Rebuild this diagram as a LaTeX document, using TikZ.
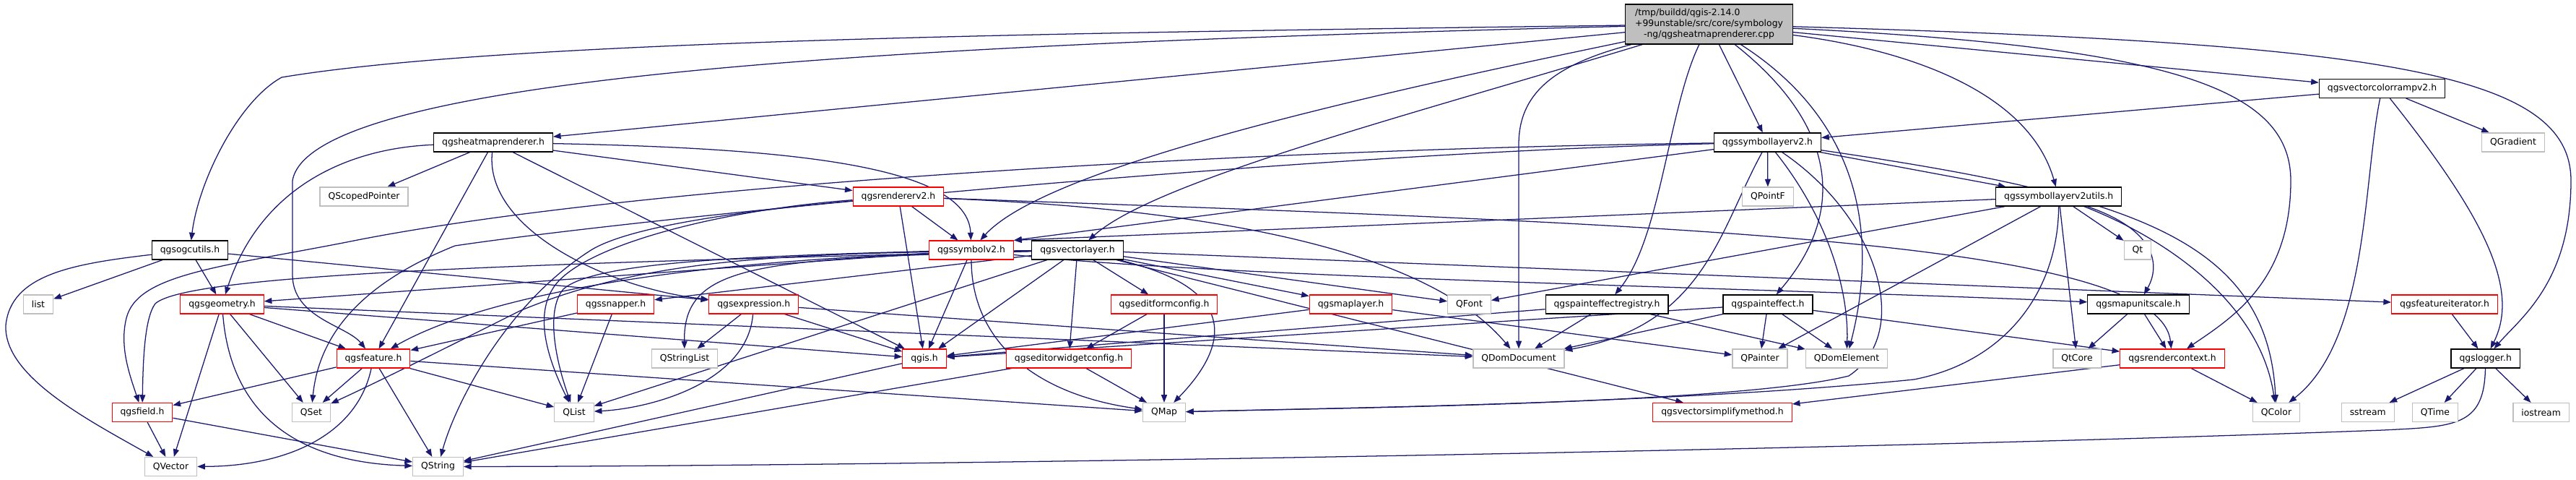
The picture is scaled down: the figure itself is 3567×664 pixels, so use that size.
\documentclass[tikz,border=0pt]{standalone}
\usepackage{fontspec}
\setmainfont{DejaVu Sans}
\usetikzlibrary{arrows.meta}
\definecolor{mblue}{HTML}{191970}
\definecolor{lgray}{HTML}{BFBFBF}
\definecolor{rootfill}{HTML}{BFBFBF}
\pgfdeclarelayer{bg}
\pgfsetlayers{bg,main}
\newcommand{\nodefont}{\fontsize{9.3pt}{11.25pt}\selectfont}
\begin{document}
\begin{tikzpicture}[x=0.75pt,y=-0.75pt,
  nd/.style={draw, fill=white, line width=0.9pt, minimum height=19.5pt, inner xsep=8.6pt, inner ysep=2pt, font=\nodefont, text=black},
  blk/.style={nd, draw=black},
  rdn/.style={nd, draw=red},
  gry/.style={nd, draw=lgray},
  e/.style={draw=mblue, line width=0.95pt, -{Triangle[length=8pt,width=6pt]}}]
\useasboundingbox (0,0) rectangle (3567,664);
\begin{pgfonlayer}{bg}
\fill[white] (0,0) rectangle (3567,664);
\end{pgfonlayer}
% nodes
\node[blk, fill=rootfill, minimum width=174pt, minimum height=41.25pt, inner xsep=0pt] (root) at (2366.5,33.5) {\begin{tabular}{@{}l@{}}/tmp/buildd/qgis-2.14.0\\+99unstable/src/core/symbology\\\multicolumn{1}{@{}c@{}}{-ng/qgsheatmaprenderer.cpp}\end{tabular}};
\node[blk] (vcr) at (3298.5,122.5) {qgsvectorcolorrampv2.h};
\node[blk] (heat) at (683,197) {qgsheatmaprenderer.h};
\node[blk] (slv2) at (2447.5,197) {qgssymbollayerv2.h};
\node[gry] (QGradient) at (3480,197) {QGradient};
\node[gry] (QScopedPointer) at (504,272) {QScopedPointer};
\node[rdn] (r2) at (1244,272) {qgsrendererv2.h};
\node[gry] (QPointF) at (2448,272) {QPointF};
\node[blk] (slu) at (2850.7,272) {qgssymbollayerv2utils.h};
\node[blk] (ogc) at (263,346) {qgsogcutils.h};
\node[rdn] (symbolv2) at (1345,346) {qgssymbolv2.h};
\node[blk] (vl) at (1492,346) {qgsvectorlayer.h};
\node[gry] (Qt) at (2960,346) {Qt};
\node[gry] (list) at (53,421) {list};
\node[rdn] (geometry) at (307.5,421) {qgsgeometry.h};
\node[rdn] (snapper) at (852.5,421) {qgssnapper.h};
\node[rdn] (expression) at (1043.7,421) {qgsexpression.h};
\node[rdn] (efc) at (1612,421) {qgseditformconfig.h};
\node[rdn] (maplayer) at (1870.5,421) {qgsmaplayer.h};
\node[gry] (QFont) at (2034.5,421) {QFont};
\node[blk] (per) at (2225,421) {qgspainteffectregistry.h};
\node[blk] (pe) at (2448,421) {qgspainteffect.h};
\node[blk] (mus) at (2961,421) {qgsmapunitscale.h};
\node[rdn] (fi) at (3385,421) {qgsfeatureiterator.h};
\node[rdn] (feature) at (517,496) {qgsfeature.h};
\node[gry] (QStringList) at (948,496) {QStringList};
\node[rdn] (qgis) at (1280,496) {qgis.h};
\node[rdn] (ewc) at (1480,496) {qgseditorwidgetconfig.h};
\node[gry] (QDomDocument) at (2103,496) {QDomDocument};
\node[gry] (QPainter) at (2437,496) {QPainter};
\node[gry] (QDomElement) at (2557,496) {QDomElement};
\node[gry] (QtCore) at (2876,496) {QtCore};
\node[rdn] (rc) at (3008,496) {qgsrendercontext.h};
\node[blk] (logger) at (3441.7,496) {qgslogger.h};
\node[rdn] (field) at (197,570.5) {qgsfield.h};
\node[gry] (QSet) at (431,570.5) {QSet};
\node[gry] (QList) at (795,570.5) {QList};
\node[gry] (QMap) at (1612,570.5) {QMap};
\node[rdn] (vsm) at (2385,570.5) {qgsvectorsimplifymethod.h};
\node[gry] (QColor) at (3152,570.5) {QColor};
\node[gry] (sstream) at (3278.7,570.5) {sstream};
\node[gry] (QTime) at (3372,570.5) {QTime};
\node[gry] (iostream) at (3518.6,570.5) {iostream};
\node[gry] (QVector) at (236.5,645.5) {QVector};
\node[gry] (QString) at (606.5,645.5) {QString};
% edges
\begin{pgfonlayer}{bg}
% root
\draw[e] (root) .. controls (1500,45) and (700,55) .. (390,107) .. controls (330,140) and (275,250) .. (ogc);
\draw[e] (root) .. controls (1300,60) and (430,100) .. (405,250) -- (405,380) .. controls (405,440) and (480,450) .. (feature);
\draw[e] (root) -- (heat);
\draw[e] (root) .. controls (1900,130) and (1450,230) .. (symbolv2);
\draw[e] (root) .. controls (1950,160) and (1600,250) .. (vl);
\draw[e] (root) .. controls (2150,90) and (2103,130) .. (2103,200) -- (QDomDocument);
\draw[e] (root) .. controls (2310,150) and (2300,330) .. (per);
\draw[e] (root) -- (slv2);
\draw[e] (root) .. controls (2540,170) and (2560,290) .. (pe);
\draw[e] (root) .. controls (2580,170) and (2600,330) .. (QDomElement);
\draw[e] (root) -- (vcr);
\draw[e] (root) .. controls (2650,70) and (2810,130) .. (slu);
\draw[e] (root) .. controls (3300,60) and (3560,100) .. (3560,250) .. controls (3560,390) and (3490,440) .. (logger);
\draw[e] (root) .. controls (3000,65) and (3172,120) .. (3172,250) .. controls (3172,390) and (3090,440) .. (rc);
% heat
\draw[e] (heat) -- (QScopedPointer);
\draw[e] (heat) .. controls (480,205) and (360,260) .. (geometry);
\draw[e] (heat) -- (feature);
\draw[e] (heat) .. controls (670,320) and (850,400) .. (expression);
\draw[e] (heat) -- (qgis);
\draw[e] (heat) .. controls (1100,205) and (1340,230) .. (symbolv2);
\draw[e] (heat) -- (r2);
% r2
\draw[e] (r2) -- (symbolv2);
\draw[e] (r2) -- (qgis);
\draw[e] (r2) .. controls (1000,290) and (800,340) .. (765,400) .. controls (740,440) and (760,500) .. (QList);
\draw[e] (r2) .. controls (1050,290) and (880,310) .. (820,345) .. controls (700,420) and (630,560) .. (QString);
\draw[e] (r2) .. controls (1700,290) and (1980,350) .. (QDomDocument);
\draw[e] (r2) .. controls (2300,310) and (2990,330) .. (rc);
% symbolv2
\draw[e] (symbolv2) -- (geometry);
\draw[e] (symbolv2) .. controls (1000,355) and (820,365) .. (780,400) .. controls (755,430) and (770,500) .. (QList);
\draw[e] (symbolv2) -- (qgis);
\draw[e] (symbolv2) .. controls (1345,470) and (1430,545) .. (QMap);
\draw[e] (symbolv2) .. controls (1700,385) and (2500,400) .. (mus);
% vl
\draw[e] (vl) .. controls (1050,358) and (946,365) .. (QStringList);
\draw[e] (vl) -- (qgis);
\draw[e] (vl) -- (ewc);
\draw[e] (vl) -- (efc);
\draw[e] (vl) .. controls (1720,400) and (1700,480) .. (QMap);
\draw[e] (vl) -- (QList);
\draw[e] (vl) .. controls (1100,350) and (900,355) .. (720,430) .. controls (620,480) and (520,530) .. (QSet);
\draw[e] (vl) -- (QFont);
\draw[e] (vl) -- (maplayer);
\draw[e] (vl) -- (snapper);
\draw[e] (vl) .. controls (900,355) and (650,420) .. (feature);
\draw[e] (vl) .. controls (700,365) and (260,380) .. (215,420) .. controls (200,440) and (198,500) .. (field);
\draw[e] (vl) -- (fi);
\draw[e] (vl) -- (vsm);
% ogc
\draw[e] (ogc) -- (list);
\draw[e] (ogc) -- (geometry);
\draw[e] (ogc) .. controls (100,365) and (15,380) .. (8,450) .. controls (5,520) and (120,580) .. (QVector);
\draw[e] (ogc) -- (expression);
% geometry
\draw[e] (geometry) -- (QVector);
\draw[e] (geometry) .. controls (320,580) and (420,640) .. (QString);
\draw[e] (geometry) -- (QSet);
\draw[e] (geometry) -- (feature);
\draw[e] (geometry) -- (qgis);
\draw[e] (geometry) -- (QDomDocument);
% feature
\draw[e] (feature) -- (field);
\draw[e] (feature) -- (QSet);
\draw[e] (feature) -- (QList);
\draw[e] (feature) -- (QString);
\draw[e] (feature) .. controls (495,600) and (400,645) .. (QVector);
\draw[e] (feature) -- (QMap);
% field, qgis
\draw[e] (field) -- (QVector);
\draw[e] (field) -- (QString);
\draw[e] (qgis) -- (QString);
% expression
\draw[e] (expression) -- (QStringList);
\draw[e] (expression) .. controls (1035,530) and (900,565) .. (QList);
\draw[e] (expression) -- (qgis);
\draw[e] (expression) -- (QDomDocument);
% snapper
\draw[e] (snapper) -- (feature);
\draw[e] (snapper) -- (QList);
% editform / editorwidget
\draw[e] (efc) -- (ewc);
\draw[e] (efc) -- (QMap);
\draw[e] (ewc) -- (QMap);
\draw[e] (ewc) -- (QString);
% maplayer
\draw[e] (maplayer) -- (qgis);
\draw[e] (maplayer) -- (QPainter);
% painteffectregistry / painteffect
\draw[e] (per) -- (QDomDocument);
\draw[e] (per) -- (QDomElement);
\draw[e] (per) -- (qgis);
\draw[e] (pe) -- (QPainter);
\draw[e] (pe) -- (QDomElement);
\draw[e] (pe) -- (QDomDocument);
\draw[e] (pe) -- (qgis);
\draw[e] (pe) -- (rc);
% slv2
\draw[e] (slv2) -- (QPointF);
\draw[e] (slv2) -- (symbolv2.north east);
\draw[e] (slv2) -- (slu);
\draw[e] (slv2) .. controls (2530,300) and (2560,400) .. (QDomElement);
\draw[e] (slv2) .. controls (2380,320) and (2360,450) .. (QDomDocument);
\draw[e] (slv2) .. controls (2600,300) and (2650,460) .. (2560,520) .. controls (2400,560) and (1800,565) .. (QMap);
\draw[e] (slv2) .. controls (2950,270) and (3140,330) .. (QColor);
\draw[e] (slv2) .. controls (1800,205) and (900,250) .. (480,335) .. controls (300,370) and (190,380) .. (175,440) .. controls (165,480) and (180,520) .. (field);
\draw[e] (slv2) .. controls (1800,212) and (900,300) .. (630,340) .. controls (480,400) and (440,480) .. (QSet);
% slu
\draw[e] (slu) -- (symbolv2.north east);
\draw[e] (slu) -- (QFont);
\draw[e] (slu) -- (QPainter);
\draw[e] (slu) .. controls (2850,400) and (2780,500) .. (2650,525) .. controls (2300,560) and (1800,565) .. (QMap);
\draw[e] (slu) -- (QtCore);
\draw[e] (slu) -- (Qt);
\draw[e] (slu) .. controls (2990,320) and (2990,370) .. (mus);
\draw[e] (slu) .. controls (3000,330) and (3130,420) .. (QColor);
% mus, rc, fi
\draw[e] (mus) -- (QtCore);
\draw[e] (mus) -- (rc);
\draw[e] (rc) -- (QColor);
\draw[e] (rc) -- (vsm);
\draw[e] (fi) -- (logger);
% logger
\draw[e] (logger) -- (sstream);
\draw[e] (logger) -- (QTime);
\draw[e] (logger) -- (iostream);
\draw[e] (logger) .. controls (3440,590) and (3400,590) .. (3300,595) .. controls (2500,625) and (1200,645) .. (QString);
% vcr
\draw[e] (vcr) -- (slv2);
\draw[e] (vcr) .. controls (3272,250) and (3280,470) .. (QColor);
\draw[e] (vcr) .. controls (3440,300) and (3490,400) .. (logger);
\draw[e] (vcr) -- (QGradient);
\end{pgfonlayer}
\end{tikzpicture}
\end{document}
